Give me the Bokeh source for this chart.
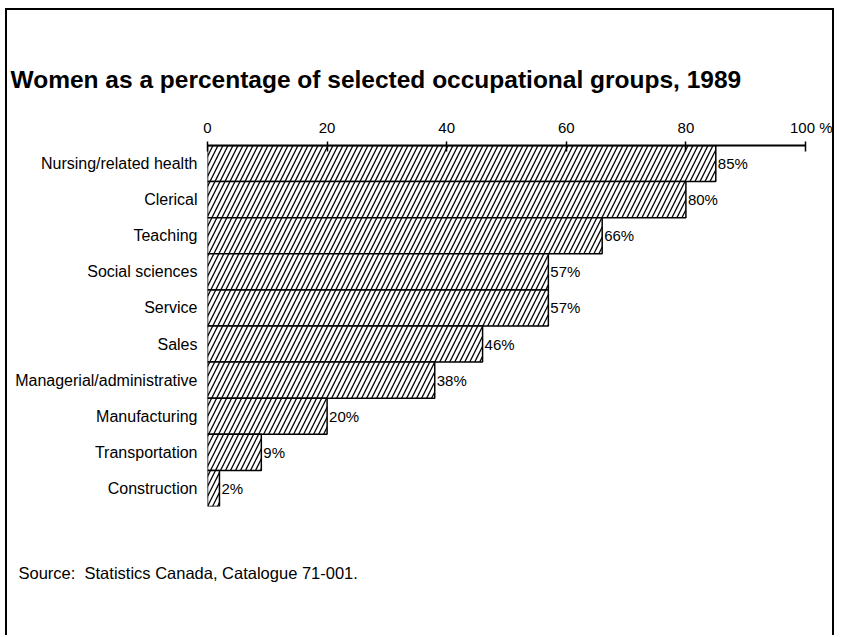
from bokeh.plotting import figure
from bokeh.models import Range1d, FactorRange, Title, ColumnDataSource, FixedTicker
from bokeh.core.properties import value
from bokeh.embed import file_html
from bokeh.resources import INLINE

categories = ["Nursing/related health", "Clerical", "Teaching", "Social sciences", "Service",
              "Sales", "Managerial/administrative", "Manufacturing", "Transportation", "Construction"]
percentages = [85, 80, 66, 57, 57, 46, 38, 20, 9, 2]
tick_values = [0, 20, 40, 60, 80, 100]
title_text = "Women as a percentage of selected occupational groups, 1989"
source_text = "Source:\u00a0 Statistics Canada, Catalogue 71-001."

FONT = "Liberation Sans"

src = ColumnDataSource(dict(cat=categories, pct=percentages,
                            lbl=[f"{v}%" for v in percentages]))

p = figure(width=829, height=627, output_backend="svg", toolbar_location=None,
           x_range=Range1d(0, 100), y_range=FactorRange(*reversed(categories), range_padding=0),
           x_axis_location="above", min_border_left=200, min_border_right=31,
           min_border_top=135, min_border_bottom=131)
p.styles = {"margin-left": "5px", "margin-top": "8px",
            "border-left": "2px solid black", "border-top": "2px solid black",
            "border-right": "2px solid black"}
p.outline_line_color = None
p.xgrid.visible = False
p.ygrid.visible = False

p.hbar(y="cat", right="pct", left=0, height=1.0, source=src, fill_color="white",
       line_color="black", line_width=1.5, hatch_pattern="/", hatch_color="black",
       hatch_scale=10, hatch_weight=1.3)
p.text(x="pct", y="cat", text="lbl", source=src, x_offset=2, text_baseline="middle",
       text_font=value(FONT), text_font_size="15px", text_color="black")

xa = p.xaxis[0]
xa.ticker = FixedTicker(ticks=tick_values)
xa.major_label_overrides = {100: "\u2007\u2007100 %"}
xa.axis_line_width = 2
xa.axis_line_color = "black"
xa.major_tick_in = 6
xa.major_tick_out = 4
xa.major_tick_line_width = 1.5
xa.minor_tick_line_color = None
xa.major_label_text_font = FONT
xa.major_label_text_font_size = "15px"
xa.major_label_text_color = "black"
xa.major_label_standoff = 6

ya = p.yaxis[0]
ya.axis_line_color = None
ya.major_tick_line_color = None
ya.minor_tick_line_color = None
ya.major_label_text_font = FONT
ya.major_label_text_font_size = "16px"
ya.major_label_text_color = "black"
ya.major_label_standoff = 4

p.title.text = title_text
p.title.align = "left"
p.title.offset = -197
p.title.text_font = FONT
p.title.text_font_size = "24.5px"
p.title.text_font_style = "bold"
p.title.text_color = "black"
p.title.standoff = 46

p.add_layout(Title(text=source_text, align="left", offset=-189, standoff=111,
                   text_font=FONT, text_font_size="16.5px", text_font_style="normal",
                   text_color="black"), "below")

open("out.html", "w").write(file_html(p, INLINE))
